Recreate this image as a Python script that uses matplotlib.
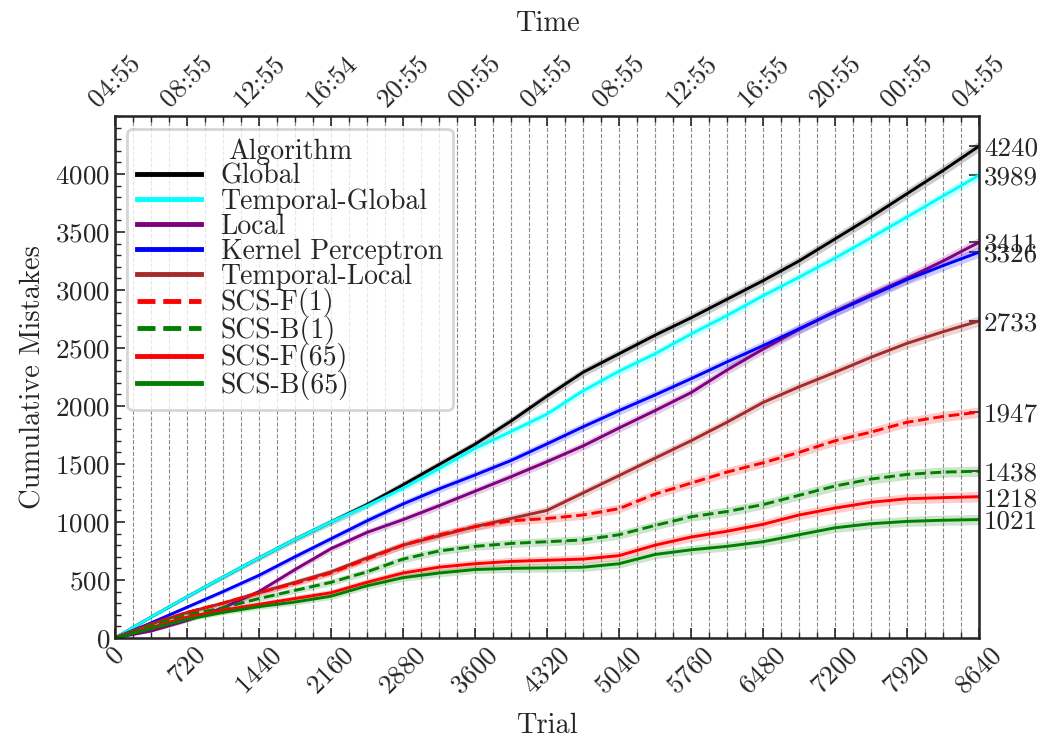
import numpy as np
import matplotlib.pyplot as plt
from matplotlib.lines import Line2D
from matplotlib.ticker import MultipleLocator

plt.rcParams['font.family'] = 'serif'
plt.rcParams['font.serif'] = ['cmr10', 'DejaVu Serif']
plt.rcParams['mathtext.fontset'] = 'cm'
plt.rcParams['axes.formatter.use_mathtext'] = True
plt.rcParams['text.color'] = '0.15'
plt.rcParams['axes.labelcolor'] = '0.15'
plt.rcParams['xtick.color'] = '0.15'
plt.rcParams['ytick.color'] = '0.15'

# trial index (every 360 trials)
trials = np.arange(0, 8641, 360)

# cumulative mistakes
global_ = [0, 180, 355, 525, 690, 850, 1000, 1150, 1320, 1495, 1670, 1870, 2085,
           2290, 2450, 2610, 2760, 2920, 3080, 3250, 3440, 3630, 3830, 4030, 4240]
temporal_global = [0, 180, 355, 525, 690, 850, 1000, 1140, 1290, 1460, 1635, 1780, 1930,
                   2130, 2300, 2450, 2620, 2780, 2950, 3110, 3275, 3450, 3630, 3810, 3989]
local = [0, 60, 150, 260, 400, 590, 770, 910, 1020, 1140, 1265, 1390, 1520,
         1655, 1810, 1960, 2115, 2310, 2490, 2660, 2815, 2960, 3100, 3250, 3411]
kernel = [0, 130, 265, 400, 540, 700, 855, 1010, 1155, 1285, 1405, 1530, 1673,
          1820, 1960, 2095, 2235, 2380, 2520, 2665, 2810, 2950, 3090, 3210, 3326]
temporal_local = [0, 120, 220, 300, 390, 480, 570, 690, 800, 880, 960, 1030, 1100,
                  1250, 1400, 1550, 1700, 1860, 2030, 2165, 2290, 2420, 2540, 2640, 2733]
scs_f1 = [0, 120, 220, 300, 390, 470, 560, 680, 800, 890, 960, 1010, 1030,
          1060, 1115, 1240, 1335, 1430, 1510, 1600, 1700, 1775, 1860, 1910, 1947]
scs_b1 = [0, 110, 200, 260, 340, 410, 480, 570, 680, 750, 790, 815, 830,
          845, 890, 970, 1045, 1090, 1150, 1230, 1310, 1370, 1410, 1430, 1438]
scs_f65 = [0, 90, 180, 240, 290, 340, 390, 480, 560, 610, 640, 660, 670,
           680, 710, 800, 870, 920, 980, 1060, 1120, 1170, 1200, 1210, 1218]
scs_b65 = [0, 80, 160, 220, 270, 310, 360, 450, 520, 560, 590, 600, 605,
           610, 640, 720, 760, 790, 830, 890, 950, 985, 1005, 1015, 1021]

# half width of the shaded band
spread = [0, 10, 16, 20, 24, 26, 28, 30, 32, 33, 34, 35, 36,
          37, 38, 38, 39, 40, 40, 41, 42, 42, 43, 44, 45]

time_labels = ['04:55', '08:55', '12:55', '16:54', '20:55', '00:55', '04:55',
               '08:55', '12:55', '16:55', '20:55', '00:55', '04:55']

series = [
    ('Global', global_, 'black', '-'),
    ('Temporal-Global', temporal_global, 'cyan', '-'),
    ('Local', local, 'purple', '-'),
    ('Kernel Perceptron', kernel, 'blue', '-'),
    ('Temporal-Local', temporal_local, 'brown', '-'),
    ('SCS-F(1)', scs_f1, 'red', '--'),
    ('SCS-B(1)', scs_b1, 'green', '--'),
    ('SCS-F(65)', scs_f65, 'red', '-'),
    ('SCS-B(65)', scs_b65, 'green', '-'),
]

fig = plt.figure(figsize=(10.53, 7.39), dpi=100)
ax = fig.add_axes([0.1092, 0.1367, 0.8205, 0.7063])

sp = np.array(spread)
handles = []
for name, vals, col, ls in series:
    v = np.array(vals)
    ax.fill_between(trials, v - sp, v + sp, color=col, alpha=0.2, lw=0)
    ax.plot(trials, v, color=col, ls=ls, lw=2.1)
    handles.append(Line2D([], [], color=col, ls=ls, lw=3.5))

ax.set_xlim(0, 8640)
ax.set_ylim(0, 4500)
ax.xaxis.set_major_locator(MultipleLocator(720))
ax.xaxis.set_minor_locator(MultipleLocator(180))
ax.yaxis.set_minor_locator(MultipleLocator(100))
ax.set_yticks([0, 500, 1000, 1500, 2000, 2500, 3000, 3500, 4000])
ax.tick_params(axis='both', which='major', direction='in', length=7, width=1.2, labelsize=19.5)
ax.tick_params(axis='both', which='minor', direction='in', length=4, width=1)
ax.tick_params(axis='x', labelrotation=45)
ax.set_xlabel('Trial', fontsize=20.5, labelpad=10)
ax.set_ylabel('Cumulative Mistakes', fontsize=20.5, labelpad=6)
for s in ax.spines.values():
    s.set_linewidth(1.8)
    s.set_color('0.15')

# top axis with clock time
top = ax.twiny()
top.set_xlim(0, 8640)
top.set_xticks(np.arange(0, 8641, 720))
top.set_xticklabels(time_labels, rotation=45)
top.xaxis.set_minor_locator(MultipleLocator(180))
top.tick_params(axis='x', which='major', direction='in', length=7, width=1.2, labelsize=19.5)
top.tick_params(axis='x', which='minor', direction='in', length=4, width=1)
top.set_xlabel('Time', fontsize=20.5, labelpad=14)
top.grid(True, which='both', axis='x', ls='--', color='0.55', lw=0.8)

# right axis with final values
right = ax.twinx()
right.set_ylim(0, 4500)
finals = [vals[-1] for _, vals, _, _ in series]
right.set_yticks(finals)
right.set_yticklabels([str(f) for f in finals])
right.tick_params(axis='y', direction='in', length=7, width=1.2, labelsize=19.5)
right.yaxis.set_minor_locator(plt.NullLocator())

leg = ax.legend(handles, [s[0] for s in series], title='Algorithm', loc='upper left',
                fontsize=20, title_fontsize=20, labelspacing=-0.05,
                handlelength=2.3, handletextpad=0.7, borderpad=0.35,
                borderaxespad=0.45, framealpha=0.8, edgecolor='0.8')
leg.get_frame().set_linewidth(2)
ax.set_zorder(top.get_zorder() + 1)
ax.patch.set_visible(False)

fig.savefig('out.png', dpi=100)
